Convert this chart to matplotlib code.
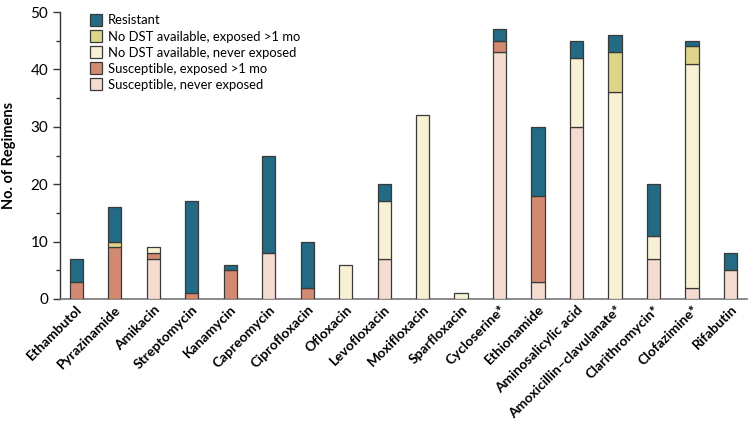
import matplotlib
matplotlib.use("Agg")
import matplotlib.pyplot as plt
import numpy as np

drugs = ["Ethambutol", "Pyrazinamide", "Amikacin", "Streptomycin", "Kanamycin",
         "Capreomycin", "Ciprofloxacin", "Ofloxacin", "Levofloxacin", "Moxifloxacin",
         "Sparfloxacin", "Cycloserine*", "Ethionamide", "Aminosalicylic acid",
         "Amoxicillin\u2013clavulanate*", "Clarithromycin*", "Clofazimine*", "Rifabutin"]

susc_never    = [0, 0, 7, 0, 0, 8, 0, 0, 7, 0, 0, 43, 3, 30, 0, 7, 2, 5]
susc_exposed  = [3, 9, 1, 1, 5, 0, 2, 0, 0, 0, 0, 2, 15, 0, 0, 0, 0, 0]
nodst_never   = [0, 0, 1, 0, 0, 0, 0, 6, 10, 32, 1, 0, 0, 12, 36, 4, 39, 0]
nodst_exposed = [0, 1, 0, 0, 0, 0, 0, 0, 0, 0, 0, 0, 0, 0, 7, 0, 3, 0]
resistant     = [4, 6, 0, 16, 1, 17, 8, 0, 3, 0, 0, 2, 12, 3, 3, 9, 1, 3]

series = [
    ("Susceptible, never exposed", susc_never, "#f5dcd1"),
    ("Susceptible, exposed >1 mo", susc_exposed, "#d38a72"),
    ("No DST available, never exposed", nodst_never, "#f8f1d3"),
    ("No DST available, exposed >1 mo", nodst_exposed, "#ddd68a"),
    ("Resistant", resistant, "#236a84"),
]

plt.rcParams['font.family'] = ['Lato', 'DejaVu Sans']

fig = plt.figure(figsize=(7.53, 4.22), dpi=100)
ax = fig.add_axes([60/753, 1-299/422, (747-60)/753, (299-12)/422])

x = np.arange(len(drugs))
bottom = np.zeros(len(drugs))
handles = []
for label, vals, color in series:
    vals = np.array(vals, dtype=float)
    mask = vals > 0
    b = ax.bar(x[mask], vals[mask], bottom=bottom[mask], width=0.34, color=color,
               edgecolor="#3a3a3a", linewidth=0.9, label=label, zorder=3)
    handles.append(b)
    bottom += vals

ax.set_xlim(-0.42, 17.43)
ax.set_ylim(0, 50)
ax.set_yticks([0, 10, 20, 30, 40, 50])
ax.set_yticks([5, 15, 25, 35, 45], minor=True)
ax.tick_params(axis='y', which='major', length=5, width=1, labelsize=11, color="#333333")
ax.tick_params(axis='y', which='minor', length=3, width=1, color="#333333")
ax.tick_params(axis='x', length=0, pad=3)
ax.set_xticks(x)
ax.set_xticklabels(drugs, rotation=45, ha='right', rotation_mode='anchor',
                   fontsize=10, fontweight='bold')
for s in ["top", "right"]:
    ax.spines[s].set_visible(False)
ax.spines["left"].set_color("#333333")
ax.spines["bottom"].set_color("#777777")
ax.spines["left"].set_linewidth(1)
ax.spines["bottom"].set_linewidth(1.2)
ax.set_ylabel("No. of Regimens", fontsize=10.5, fontweight='bold')
ax.yaxis.set_label_coords(-0.064, 0.5)

leg = ax.legend(handles=handles[::-1], labels=[s[0] for s in series][::-1],
                loc='upper left', bbox_to_anchor=(0.036, 1.01), frameon=False,
                fontsize=9.4, handlelength=0.9, handleheight=0.95,
                handletextpad=0.5, labelspacing=0.3, borderaxespad=0)

fig.savefig("out.png", dpi=100)
